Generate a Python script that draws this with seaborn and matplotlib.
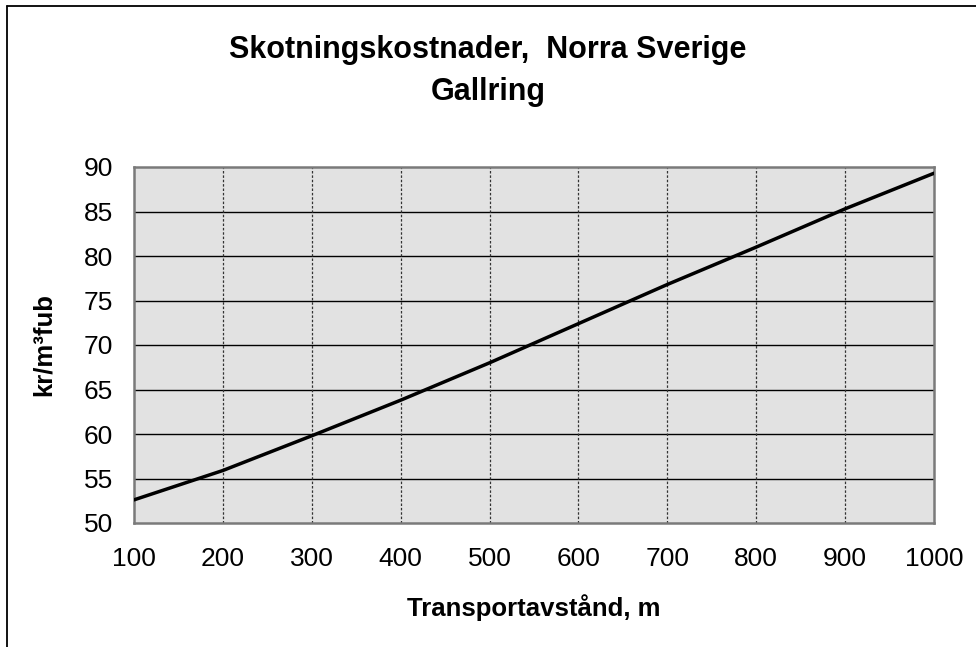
import matplotlib
matplotlib.use("Agg")
import matplotlib.pyplot as plt
from matplotlib.lines import Line2D
import numpy as np
import pandas as pd
import seaborn as sns

# Transport distance (m) and forwarding cost (kr/m3fub)
distance = [100, 200, 300, 400, 500, 600, 700, 800, 900, 1000]
cost = [52.6, 55.9, 59.8, 63.8, 68.0, 72.4, 76.8, 81.0, 85.3, 89.3]

TITLE = "Skotningskostnader,  Norra Sverige\nGallring"
XLABEL = "Transportavstånd, m"
YLABEL = "kr/m³fub"

sns.set_style("white")
plt.rcParams["font.family"] = ["Liberation Sans", "DejaVu Sans"]
plt.rcParams["text.color"] = "black"
plt.rcParams["axes.labelcolor"] = "black"

df = pd.DataFrame({"distance": distance, "cost": cost})

fig = plt.figure(figsize=(9.76, 6.47), dpi=100)
ax = fig.add_axes([134 / 976, 1 - 523 / 647, 800 / 976, 356 / 647])
ax.set_facecolor("#e2e2e2")

sns.lineplot(data=df, x="distance", y="cost", ax=ax, color="black", lw=2.5, zorder=3)

ax.set_xlim(100, 1000)
ax.set_ylim(50, 90)
ax.set_xticks(np.arange(100, 1001, 100))
ax.set_yticks(np.arange(50, 91, 5))

# grid: solid horizontal, dotted vertical
for yv in range(55, 90, 5):
    ax.axhline(yv, color="black", lw=1.0, zorder=1)
for xv in range(200, 1000, 100):
    ax.axvline(xv, color="#333333", lw=0.9, ls=(0, (2, 1.5)), zorder=1)

for s in ax.spines.values():
    s.set_color("#7a7a7a")
    s.set_linewidth(1.8)

ax.tick_params(axis="both", direction="out", length=6, width=1.0, color="#444444",
               labelsize=19, labelcolor="black")
ax.tick_params(axis="y", pad=9)
ax.tick_params(axis="x", pad=11)

ax.set_xlabel(XLABEL, fontsize=18.5, fontweight="bold", labelpad=17)
ax.set_ylabel(YLABEL, fontsize=18.5, fontweight="bold", labelpad=20)

fig.text(0.5, 1 - 71 / 647, TITLE, ha="center", va="center", fontsize=22,
         fontweight="bold", linespacing=1.52)

# outer chart border (left and top edges visible)
fig.add_artist(Line2D([7 / 976, 7 / 976], [0, 1 - 6 / 647], transform=fig.transFigure,
                      color="black", lw=1.3))
fig.add_artist(Line2D([7 / 976, 1], [1 - 6 / 647, 1 - 6 / 647], transform=fig.transFigure,
                      color="black", lw=1.3))

fig.savefig("out.png", dpi=100)
plt.close(fig)
